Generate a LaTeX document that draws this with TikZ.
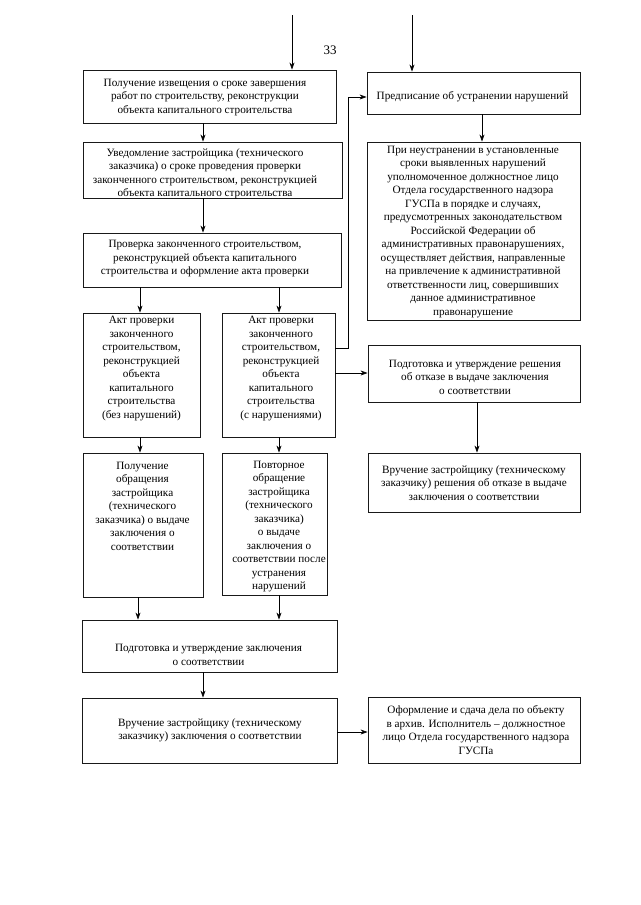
\documentclass[tikz,border=0pt]{standalone}
\usepackage{fontspec}
\setmainfont{Liberation Serif}
\usetikzlibrary{arrows.meta}
\begin{document}
\begin{tikzpicture}[x=1pt,y=-1pt,
  box/.style={draw=black!90, line width=0.9pt, inner sep=0pt},
  txt/.style={align=center, font=\fontsize{11.2}{13.5}\selectfont, inner sep=0pt},
  arr/.style={-{Stealth[length=7pt,width=5pt]}, line width=0.7pt}]
\useasboundingbox[fill=white] (0,0) rectangle (640,905);

% page number
\node[font=\fontsize{13}{15}\selectfont, inner sep=0pt] (pg) at (330,50) {33};

% left column boxes
\node[box, minimum width=253, minimum height=53] (b1) at (209.5,96.5) {};
\node[box, minimum width=259, minimum height=56] (b2) at (212.5,170) {};
\node[box, minimum width=258, minimum height=54] (b3) at (212,260) {};
\node[box, minimum width=117, minimum height=124] (b4a) at (141.5,375) {};
\node[box, minimum width=113, minimum height=124] (b4b) at (278.5,375) {};
\node[box, minimum width=120, minimum height=144] (b5a) at (143,525) {};
\node[box, minimum width=105, minimum height=142] (b5b) at (274.5,524) {};
\node[box, minimum width=255, minimum height=52] (b6) at (209.5,646) {};
\node[box, minimum width=255, minimum height=65] (b7) at (209.5,730.5) {};

% right column boxes
\node[box, minimum width=213, minimum height=42] (r1) at (473.5,93) {};
\node[box, minimum width=213, minimum height=178] (r2) at (473.5,231) {};
\node[box, minimum width=212, minimum height=57] (r3) at (474,373.5) {};
\node[box, minimum width=212, minimum height=59] (r4) at (474,482.5) {};
\node[box, minimum width=212, minimum height=66] (r5) at (474,730) {};

% texts
\node[txt] (t1) at (205,97.5) {Получение извещения о сроке завершения\\работ по строительству, реконструкции\\объекта капитального строительства};
\node[txt] (t2) at (205,174) {Уведомление застройщика (технического\\заказчика) о сроке проведения проверки\\законченного строительством, реконструкцией\\объекта капитального строительства};
\node[txt] (t3) at (205,259) {Проверка законченного строительством,\\реконструкцией объекта капитального\\строительства и оформление акта проверки};
\node[txt] (t4a) at (141.5,368.5) {Акт проверки\\законченного\\строительством,\\реконструкцией\\объекта\\капитального\\строительства\\(без нарушений)};
\node[txt] (t4b) at (281,368.5) {Акт проверки\\законченного\\строительством,\\реконструкцией\\объекта\\капитального\\строительства\\(с нарушениями)};
\node[txt] (t5a) at (142.5,506) {Получение\\обращения\\застройщика\\(технического\\заказчика) о выдаче\\заключения о\\соответствии};
\node[txt] (t5b) at (279,526.5) {Повторное\\обращение\\застройщика\\(технического\\заказчика)\\о выдаче\\заключения о\\соответствии после\\устранения\\нарушений};
\node[txt] (t6) at (208.5,655) {Подготовка и утверждение заключения\\о соответствии};
\node[txt] (t7) at (210,730.5) {Вручение застройщику (техническому\\заказчику) заключения о соответствии};
\node[txt] (tr1) at (472.5,97) {Предписание об устранении нарушений};
\node[txt] (tr2) at (473,232) {При неустранении в установленные\\сроки выявленных нарушений\\уполномоченное должностное лицо\\Отдела государственного надзора\\ГУСПа в порядке и случаях,\\предусмотренных законодательством\\Российской Федерации об\\административных правонарушениях,\\осуществляет действия, направленные\\на привлечение к административной\\ответственности лиц, совершивших\\данное административное\\правонарушение};
\node[txt] (tr3) at (475,377) {Подготовка и утверждение решения\\об отказе в выдаче заключения\\о соответствии};
\node[txt] (tr4) at (474,483) {Вручение застройщику (техническому\\заказчику) решения об отказе в выдаче\\заключения о соответствии};
\node[txt] (tr5) at (476,730) {Оформление и сдача дела по объекту\\в архив. Исполнитель -- должностное\\лицо Отдела государственного надзора\\ГУСПа};

% helper coordinates
\coordinate (tl) at (292,15);
\coordinate (tr) at (412,15);
\coordinate (x203) at (203,0);
\coordinate (x140) at (140,0);
\coordinate (x138) at (138,0);
\coordinate (x279) at (279,0);
\coordinate (x482) at (482,0);
\coordinate (x477) at (477,0);
\coordinate (y732) at (0,732);
\coordinate (y373) at (0,373);
\coordinate (k1) at (348,348);
\coordinate (k2) at (348,97);

% connectors
\draw[arr] (tl) -- (tl |- b1.north);
\draw[arr] (tr) -- (tr |- r1.north);
\draw[arr] (b1.south -| x203) -- (b2.north -| x203);
\draw[arr] (b2.south -| x203) -- (b3.north -| x203);
\draw[arr] (b3.south -| x140) -- (b4a.north -| x140);
\draw[arr] (b3.south -| x279) -- (b4b.north -| x279);
\draw[arr] (b4a.south -| x140) -- (b5a.north -| x140);
\draw[arr] (b4b.south -| x279) -- (b5b.north -| x279);
\draw[arr] (b5a.south -| x138) -- (b6.north -| x138);
\draw[arr] (b5b.south -| x279) -- (b6.north -| x279);
\draw[arr] (b6.south -| x203) -- (b7.north -| x203);
\draw[arr] (b7.east |- y732) -- (r5.west |- y732);
\draw[arr] (b4b.east |- k1) -- (k1) -- (k2) -- (r1.west |- k2);
\draw[arr] (b4b.east |- y373) -- (r3.west |- y373);
\draw[arr] (r1.south -| x482) -- (r2.north -| x482);
\draw[arr] (r3.south -| x477) -- (r4.north -| x477);
\end{tikzpicture}
\end{document}
